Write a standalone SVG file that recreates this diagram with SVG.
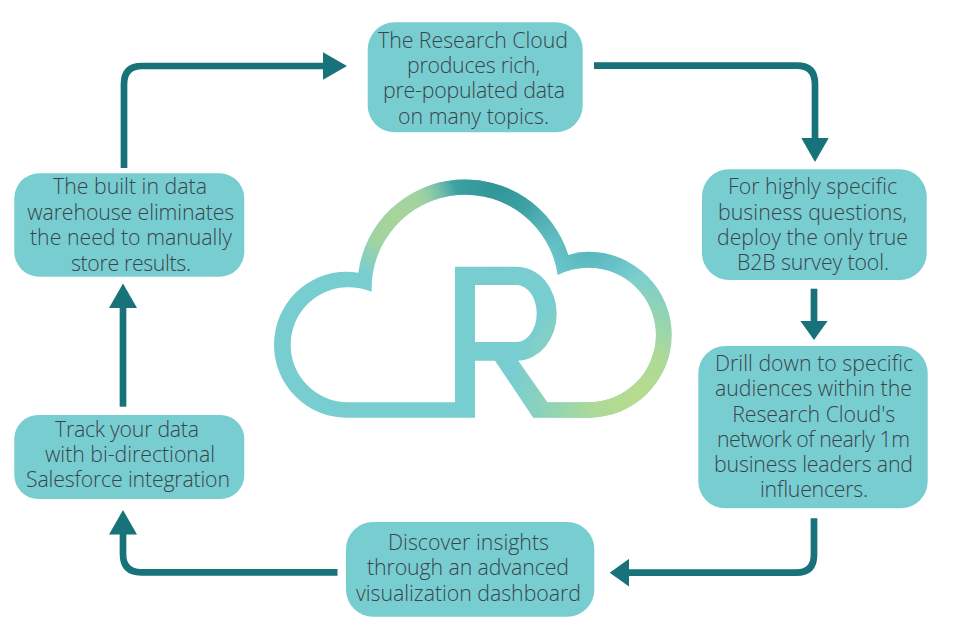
<svg xmlns="http://www.w3.org/2000/svg" width="957" height="639" viewBox="0 0 957 639">
<style>
.box{fill:#78cdd1}
.t{font-family:"Open Sans","Liberation Sans",sans-serif;font-weight:300;font-size:21.300px;fill:#39454b;text-anchor:middle}
.c{fill:none;stroke:#17727a;stroke-width:6.700}
</style>
<defs>
<marker id="a" markerUnits="userSpaceOnUse" markerWidth="25" markerHeight="28" refX="0.500" refY="14" orient="auto"><path d="M0 0L24.500 14L0 28Z" fill="#17727a"/></marker>
<marker id="b" markerUnits="userSpaceOnUse" markerWidth="20" markerHeight="28" refX="0.500" refY="14" orient="auto"><path d="M0 0L19.500 14L0 28Z" fill="#17727a"/></marker>
<path id="cl" fill-rule="evenodd" d="M475 417.700H346.700A72.700 73 0 0 1 346.700 271.700Q352 271.700 358.300 272.700A108 108 0 0 1 568.300 255Q578 251.700 588.300 251.700A83.300 83 0 0 1 588.300 417.700H533.300L495 360.700H475ZM455 402.300V266.700H516.700A40 47 0 0 1 556.700 313.300A40 47 0 0 1 518.300 360.700L547.300 402.300H588.300A67.700 67.300 0 0 0 588.300 267.700Q572 267.700 557.700 275A93.500 93.500 0 0 0 371.700 291.700Q360 287.300 348 287.300A57.500 57.500 0 0 0 348.300 402.300ZM475 285V342H516.700A20 28.500 0 0 0 536.700 313.300A20 28.500 0 0 0 516.700 285Z"/>
<radialGradient id="g1" gradientUnits="userSpaceOnUse" cx="495" cy="182" r="88"><stop offset="0" stop-color="#2f9597"/><stop offset=".45" stop-color="#2f9597" stop-opacity=".8"/><stop offset="1" stop-color="#2f9597" stop-opacity="0"/></radialGradient>
<radialGradient id="g4" gradientUnits="userSpaceOnUse" cx="588" cy="238" r="62"><stop offset="0" stop-color="#45adb2" stop-opacity=".85"/><stop offset="1" stop-color="#45adb2" stop-opacity="0"/></radialGradient>
<radialGradient id="g2" gradientUnits="userSpaceOnUse" cx="395" cy="215" r="66"><stop offset="0" stop-color="#a8d49a"/><stop offset=".5" stop-color="#a8d49a" stop-opacity=".85"/><stop offset="1" stop-color="#a8d49a" stop-opacity="0"/></radialGradient>
<radialGradient id="g3" gradientUnits="userSpaceOnUse" cx="640" cy="400" r="130"><stop offset="0" stop-color="#b7dc8c"/><stop offset=".35" stop-color="#b7dc8c" stop-opacity=".85"/><stop offset="1" stop-color="#b7dc8c" stop-opacity="0"/></radialGradient>
</defs>
<rect width="957" height="639" fill="#fff"/>
<g id="connectors">
<path class="c" d="M124 168V84Q124 66 142 66H323" marker-end="url(#a)"/>
<path class="c" d="M594 65.700H797Q815 65.700 815 84V138" marker-end="url(#a)"/>
<path class="c" d="M814 288.700V321" marker-end="url(#b)"/>
<path class="c" d="M814 518.300V555Q814 572.700 796 572.700H628.700" marker-end="url(#b)"/>
<path class="c" d="M337.500 572.300H141Q123 572.300 123 554V534" marker-end="url(#a)"/>
<path class="c" d="M123 406.700V307.500" marker-end="url(#a)"/>
</g>
<g id="logo">
<use href="#cl" fill="#78cdd1"/>
<use href="#cl" fill="url(#g4)"/>
<use href="#cl" fill="url(#g1)"/>
<use href="#cl" fill="url(#g2)"/>
<use href="#cl" fill="url(#g3)"/>
</g>
<g id="n1"><rect class="box" x="367.700" y="22.300" width="215" height="110" rx="27"/>
<text class="t" x="473" y="48" textLength="190">The Research Cloud</text><text class="t" x="473.500" y="73" textLength="133">produces rich,</text><text class="t" x="474" y="98" textLength="182">pre-populated data</text><text class="t" x="473.500" y="124" textLength="151">on many topics.</text></g>
<g id="n2"><rect class="box" x="702" y="169.300" width="224.700" height="110.700" rx="27"/>
<text class="t" x="812.500" y="194" textLength="169">For highly specific</text><text class="t" x="812.500" y="219.500" textLength="189">business questions,</text><text class="t" x="812.500" y="244.500" textLength="191">deploy the only true</text><text class="t" x="813" y="270" textLength="152">B2B survey tool.</text></g>
<g id="n3"><rect class="box" x="698.300" y="346" width="229.400" height="162.300" rx="27"/>
<text class="t" x="814" y="370.700" textLength="198">Drill down to specific</text><text class="t" x="813.500" y="395.700" textLength="197">audiences within the</text><text class="t" x="813.700" y="421.700" textLength="163">Research Cloud's</text><text class="t" x="813.500" y="446.700" textLength="193">network of nearly 1m</text><text class="t" x="813.500" y="472.300" textLength="199">business leaders and</text><text class="t" x="814" y="497.300" textLength="108">influencers.</text></g>
<g id="n4"><rect class="box" x="346" y="522" width="248.300" height="94.700" rx="27"/>
<text class="t" x="468.500" y="550" textLength="161">Discover insights</text><text class="t" x="468" y="575" textLength="202">through an advanced</text><text class="t" x="468.500" y="600.700" textLength="225">visualization dashboard</text></g>
<g id="n5"><rect class="box" x="14.300" y="415" width="230" height="84" rx="24"/>
<text class="t" x="127" y="436.700" textLength="144">Track your data</text><text class="t" x="130" y="461.700" textLength="170">with bi-directional</text><text class="t" x="128" y="487.300" textLength="204">Salesforce integration</text></g>
<g id="n6"><rect class="box" x="14.300" y="173.300" width="230" height="103.400" rx="25"/>
<text class="t" x="130" y="194.300" textLength="154">The built in data</text><text class="t" x="130.700" y="220" textLength="207">warehouse eliminates</text><text class="t" x="131" y="245" textLength="202">the need to manually</text><text class="t" x="131" y="270.700" textLength="120">store results.</text></g>
</svg>
